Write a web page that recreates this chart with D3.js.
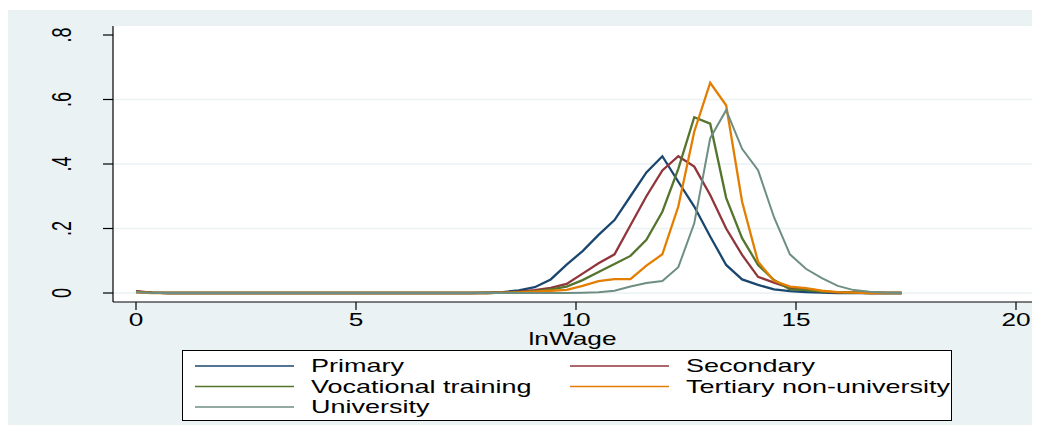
<!DOCTYPE html>
<html>
<head>
<meta charset="utf-8">
<script src="https://cdn.jsdelivr.net/npm/d3@7"></script>
<style>
  body { margin: 0; background: #fff; }
  svg text { font-family: "Liberation Sans", Arial, sans-serif; fill: #000; }
</style>
</head>
<body>
<div id="chart"></div>
<script>
// grid of lnWage values the densities were evaluated at
var xs = [0, 0.3625, 0.725, 1.0875, 1.45, 1.8125, 2.175, 2.5375, 2.9, 3.2625,
  3.625, 3.9875, 4.35, 4.7125, 5.075, 5.4375, 5.8, 6.1625, 6.525, 6.8875,
  7.25, 7.6125, 7.975, 8.3375, 8.7, 9.0625, 9.425, 9.7875, 10.15, 10.5125,
  10.875, 11.2375, 11.6, 11.9625, 12.325, 12.6875, 13.05, 13.4125, 13.775, 14.1375,
  14.5, 14.8625, 15.225, 15.5875, 15.95, 16.3125, 16.675, 17.0375, 17.4];

var primary = [0.004, 0.001, 0, 0, 0, 0, 0, 0, 0, 0,
  0, 0, 0, 0, 0, 0, 0, 0, 0, 0,
  0, 0, 0.001, 0.003, 0.008, 0.018, 0.042, 0.088, 0.13, 0.18,
  0.226, 0.30, 0.374, 0.424, 0.345, 0.268, 0.175, 0.087, 0.042, 0.025,
  0.011, 0.006, 0.003, 0.001, 0, 0, 0, 0, 0];
var secondary = [0.006, 0.001, 0, 0, 0, 0, 0, 0, 0, 0,
  0, 0, 0, 0, 0, 0, 0, 0, 0, 0,
  0, 0, 0, 0.001, 0.004, 0.009, 0.016, 0.028, 0.06, 0.092,
  0.12, 0.21, 0.30, 0.38, 0.424, 0.392, 0.304, 0.20, 0.118, 0.05,
  0.032, 0.016, 0.013, 0.005, 0.002, 0.001, 0, 0, 0];
var vocational = [0.003, 0.001, 0, 0, 0, 0, 0, 0, 0, 0,
  0, 0, 0, 0, 0, 0, 0, 0, 0, 0,
  0, 0, 0, 0.001, 0.003, 0.006, 0.011, 0.02, 0.04, 0.065,
  0.09, 0.115, 0.165, 0.252, 0.385, 0.545, 0.525, 0.295, 0.17, 0.087,
  0.04, 0.011, 0.009, 0.004, 0.002, 0.001, 0, 0, 0];
var tertiary = [0.002, 0, 0, 0, 0, 0, 0, 0, 0, 0,
  0, 0, 0, 0, 0, 0, 0, 0, 0, 0,
  0, 0, 0, 0.001, 0.002, 0.004, 0.007, 0.01, 0.022, 0.037,
  0.043, 0.043, 0.085, 0.12, 0.268, 0.50, 0.652, 0.582, 0.283, 0.097,
  0.038, 0.02, 0.015, 0.007, 0.003, 0.001, 0, 0, 0];
var university = [0.002, 0, 0, 0, 0, 0, 0, 0, 0, 0,
  0, 0, 0, 0, 0, 0, 0, 0, 0, 0,
  0, 0, 0, 0, 0, 0, 0, 0, 0.001, 0.002,
  0.007, 0.02, 0.031, 0.037, 0.08, 0.216, 0.48, 0.567, 0.447, 0.381,
  0.235, 0.12, 0.075, 0.046, 0.022, 0.009, 0.004, 0.001, 0];

var seriesNames = ["Primary", "Secondary", "Vocational training", "Tertiary non-university", "University"];
var seriesColors = ["#1a476f", "#90353b", "#55752f", "#e37e00", "#6e8e84"];
var xTicks = [0, 5, 10, 15, 20];
var yTicks = [0, 0.2, 0.4, 0.6, 0.8];
var yTickLabels = ["0", ".2", ".4", ".6", ".8"];

var width = 1048, height = 433;
var plot = {left: 113, right: 1032, top: 26, bottom: 302};
var stretch = 1.5; // the source graph was widened, text included

var svg = d3.select('#chart').append('svg')
    .attr('width', width)
    .attr('height', height);

svg.append('rect')
    .attr('x', 8).attr('y', 10)
    .attr('width', 1024).attr('height', 415)
    .attr('fill', '#eaf2f3');

svg.append('rect')
    .attr('x', plot.left).attr('y', plot.top)
    .attr('width', plot.right - plot.left).attr('height', plot.bottom - plot.top)
    .attr('fill', '#fff');

var x = d3.scaleLinear().domain([0, 20]).range([136, 1016]);
var y = d3.scaleLinear().domain([0, 0.8]).range([293, 35]);

function place(px, py) {
  return 'translate(' + px + ',' + py + ') scale(' + stretch + ',1)';
}

// grid lines (none at the top value, like stata)
svg.append('g').selectAll('line')
    .data(yTicks.filter(function(d) { return d < 0.8; }))
  .enter().append('line')
    .attr('x1', plot.left).attr('x2', plot.right)
    .attr('y1', y).attr('y2', y)
    .attr('stroke', '#eaf2f3')
    .attr('stroke-width', 1.6);

var line = d3.line()
    .x(function(d) { return x(d[0]); })
    .y(function(d) { return y(d[1]); });

var allSeries = [primary, secondary, vocational, tertiary, university];

svg.append('g').selectAll('path')
    .data(allSeries)
  .enter().append('path')
    .attr('d', function(s) { return line(xs.map(function(v, i) { return [v, s[i]]; })); })
    .attr('fill', 'none')
    .attr('stroke', function(d, i) { return seriesColors[i]; })
    .attr('stroke-width', function(d, i) { return i == 4 ? 2 : 2.3; })
    .attr('stroke-linejoin', 'miter');

// y axis
var yAxis = svg.append('g');
yAxis.append('line')
    .attr('x1', plot.left).attr('x2', plot.left)
    .attr('y1', plot.top).attr('y2', plot.bottom)
    .attr('stroke', '#000').attr('stroke-width', 1.2);
yAxis.selectAll('line.tick')
    .data(yTicks)
  .enter().append('line')
    .attr('class', 'tick')
    .attr('x1', plot.left - 10).attr('x2', plot.left)
    .attr('y1', y).attr('y2', y)
    .attr('stroke', '#000').attr('stroke-width', 1.2);
yAxis.selectAll('text')
    .data(yTicks)
  .enter().append('text')
    .attr('transform', function(d) { return place(71, y(d)) + ' rotate(-90)'; })
    .attr('text-anchor', 'middle')
    .style('font-size', '18px')
    .text(function(d, i) { return yTickLabels[i]; });

// x axis
var xAxis = svg.append('g');
xAxis.append('line')
    .attr('x1', plot.left).attr('x2', plot.right)
    .attr('y1', plot.bottom).attr('y2', plot.bottom)
    .attr('stroke', '#000').attr('stroke-width', 1.2);
xAxis.selectAll('line.tick')
    .data(xTicks)
  .enter().append('line')
    .attr('class', 'tick')
    .attr('x1', x).attr('x2', x)
    .attr('y1', plot.bottom).attr('y2', plot.bottom + 8)
    .attr('stroke', '#000').attr('stroke-width', 1.2);
xAxis.selectAll('text')
    .data(xTicks)
  .enter().append('text')
    .attr('transform', function(d) { return place(x(d), 325.5); })
    .attr('text-anchor', 'middle')
    .style('font-size', '17.5px')
    .text(function(d) { return d; });

svg.append('text')
    .attr('transform', place((plot.left + plot.right) / 2, 345))
    .attr('text-anchor', 'middle')
    .style('font-size', '17.5px')
    .text('lnWage');

// legend
var legend = svg.append('g');
legend.append('rect')
    .attr('x', 182.5).attr('y', 350.5)
    .attr('width', 769).attr('height', 70)
    .attr('fill', '#fff')
    .attr('stroke', '#000').attr('stroke-width', 1);

var items = legend.selectAll('g.item')
    .data(seriesNames)
  .enter().append('g')
    .attr('class', 'item')
    .attr('transform', function(d, i) {
      return 'translate(' + (i % 2 == 0 ? 195 : 570) + ',' + (366 + Math.floor(i / 2) * 20.5) + ')';
    });
items.append('line')
    .attr('x1', 0).attr('x2', 99)
    .attr('stroke', function(d, i) { return seriesColors[i]; })
    .attr('stroke-width', 1.6);
items.append('text')
    .attr('transform', place(116, 6))
    .style('font-size', '18px')
    .text(function(d) { return d; });
</script>
</body>
</html>
